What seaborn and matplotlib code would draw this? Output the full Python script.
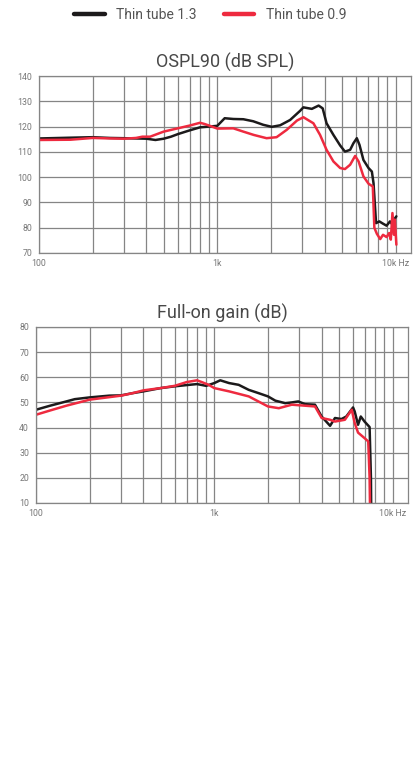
import matplotlib
matplotlib.use("Agg")
import matplotlib.pyplot as plt
from matplotlib.lines import Line2D
import seaborn as sns
import pandas as pd

# OSPL90 curves (Hz, dB SPL)
ospl_13_freq = [100, 150, 200, 250, 300, 350, 400, 450, 500, 550, 600, 700, 800, 900,
                1000, 1100, 1230, 1400, 1590, 1810, 2020, 2250, 2560, 2910, 3040, 3390,
                3700, 3900, 4100, 4480, 4890, 5200, 5560, 5800, 6060, 6270, 6600, 7050,
                7360, 7520, 7770, 8100, 8500, 8900, 9300, 9600, 9850, 10100]
ospl_13_db = [115.3, 115.6, 115.8, 115.5, 115.4, 115.3, 115.2, 114.7, 115.2, 116.0,
              117.0, 118.5, 119.7, 120.0, 120.3, 123.3, 123.0, 122.9, 122.1, 120.7,
              119.9, 120.5, 122.6, 126.2, 127.6, 127.0, 128.3, 127.2, 121.3, 116.7,
              112.5, 110.1, 110.8, 113.4, 115.4, 112.8, 106.8, 103.6, 102.2, 97.6,
              81.8, 82.5, 81.6, 80.8, 82.5, 81.2, 83.4, 84.5]

ospl_09_freq = [100, 150, 200, 250, 300, 350, 380, 420, 500, 600, 700, 800, 850, 900,
                1000, 1230, 1400, 1600, 1890, 2150, 2450, 2800, 3040, 3460, 3770, 4100,
                4480, 4890, 5200, 5560, 5930, 6200, 6600, 7050, 7450, 7600, 7850, 8200,
                8500, 8900, 9200, 9400, 9600, 9800, 9900, 10100]
ospl_09_db = [114.7, 114.8, 115.5, 115.3, 115.2, 115.5, 116.0, 116.0, 118.0, 119.3,
              120.4, 121.5, 121.0, 120.4, 119.2, 119.3, 118.0, 116.7, 115.4, 115.8,
              118.7, 122.4, 123.7, 121.3, 116.7, 110.8, 106.2, 103.6, 103.2, 104.9,
              108.4, 106.2, 100.3, 97.4, 96.3, 80.0, 77.6, 75.5, 77.2, 76.3, 77.9,
              75.3, 85.8, 77.2, 83.2, 73.3]

# Full-on gain curves (Hz, dB)
gain_13_freq = [100, 120, 148, 165, 200, 258, 300, 349, 400, 500, 600, 700, 800, 900,
                1000, 1080, 1210, 1370, 1560, 1770, 2000, 2200, 2500, 2720, 2960, 3230,
                3670, 4000, 4460, 4750, 5170, 5500, 6000, 6130, 6400, 6630, 6960, 7430,
                7560, 7600]
gain_13_db = [47.1, 48.7, 50.4, 51.3, 52.0, 52.7, 52.8, 53.7, 54.4, 55.7, 56.4, 56.9,
              57.3, 56.6, 57.7, 58.8, 57.7, 57.0, 55.0, 53.7, 52.4, 50.7, 49.7, 50.0,
              50.4, 49.3, 49.1, 44.4, 40.7, 43.8, 43.4, 44.4, 48.0, 46.4, 41.1, 44.4,
              42.4, 40.2, 20.0, 0.0]

gain_09_freq = [100, 120, 148, 200, 300, 349, 400, 500, 600, 700, 800, 850, 930, 1000,
                1210, 1560, 2000, 2300, 2720, 3230, 3670, 4000, 4460, 4750, 5400, 5900,
                6130, 6400, 6960, 7300, 7430, 7500]
gain_09_db = [45.1, 46.8, 48.7, 51.1, 52.7, 53.7, 54.8, 55.7, 56.6, 58.1, 58.8, 58.1,
              57.0, 55.7, 54.4, 52.4, 48.4, 47.7, 49.1, 48.7, 48.4, 43.8, 43.1, 42.4,
              43.1, 47.1, 41.8, 38.0, 35.8, 34.5, 20.0, 0.0]

series_names = ["Thin tube 1.3", "Thin tube 0.9"]
series_colors = ["#1c1a1b", "#ee2a3f"]
titles = ["OSPL90 (dB SPL)", "Full-on gain (dB)"]
x_tick_values = [100, 1000, 10000]
x_tick_labels = ["100", "1k", "10k Hz"]

sns.set_style("white")
plt.rcParams["font.family"] = ["Roboto", "DejaVu Sans"]

fig = plt.figure(figsize=(4.2, 7.72), dpi=100)

W, H = 420, 772


def axes_box(x0, y0, x1, y1):
    return [x0 / W, 1 - y1 / H, (x1 - x0) / W, (y1 - y0) / H]


panels = [
    dict(box=axes_box(39, 76, 411, 253), ylim=(70, 140),
         curves=[(ospl_13_freq, ospl_13_db), (ospl_09_freq, ospl_09_db)]),
    dict(box=axes_box(36, 327, 408, 503), ylim=(10, 80),
         curves=[(gain_13_freq, gain_13_db), (gain_09_freq, gain_09_db)]),
]

grid_color = "#858585"
minor_ticks = [f * m for f in (100, 1000) for m in range(2, 10)]

for panel, title in zip(panels, titles):
    ax = fig.add_axes(panel["box"])
    for (fx, fy), name, color in zip(panel["curves"], series_names, series_colors):
        df = pd.DataFrame({"freq": fx, "db": fy})
        sns.lineplot(data=df, x="freq", y="db", ax=ax, color=color, lw=1.8,
                     legend=False, estimator=None)
    ax.set_xscale("log")
    ax.set_xlim(100, 12200)
    ax.set_ylim(*panel["ylim"])
    ax.set_xticks(x_tick_values)
    ax.set_xticklabels(x_tick_labels)
    ax.set_xticks(minor_ticks, minor=True)
    ax.set_xticklabels([], minor=True)
    ax.set_yticks(range(panel["ylim"][0], panel["ylim"][1] + 1, 10))
    ax.grid(which="both", color=grid_color, lw=0.9)
    ax.set_axisbelow(True)
    ax.tick_params(which="both", length=0, labelsize=6.3, colors="#777777")
    ax.tick_params(axis="y", pad=5)
    ax.tick_params(axis="x", pad=4)
    ax.set_xlabel("")
    ax.set_ylabel("")
    for s in ax.spines.values():
        s.set_color(grid_color)
        s.set_linewidth(0.9)
    ax.set_title(title, fontsize=13, color="#484848", pad=6)

handles = [Line2D([], [], color=c, lw=3.2, solid_capstyle="round") for c in series_colors]
fig.legend(handles, series_names, loc="center", bbox_to_anchor=(0.5, 1 - 15 / H),
           ncol=2, frameon=False, fontsize=10, labelcolor="#555555",
           handlelength=2.2, columnspacing=2.0, handletextpad=0.8)

fig.savefig("out.png", dpi=100)
